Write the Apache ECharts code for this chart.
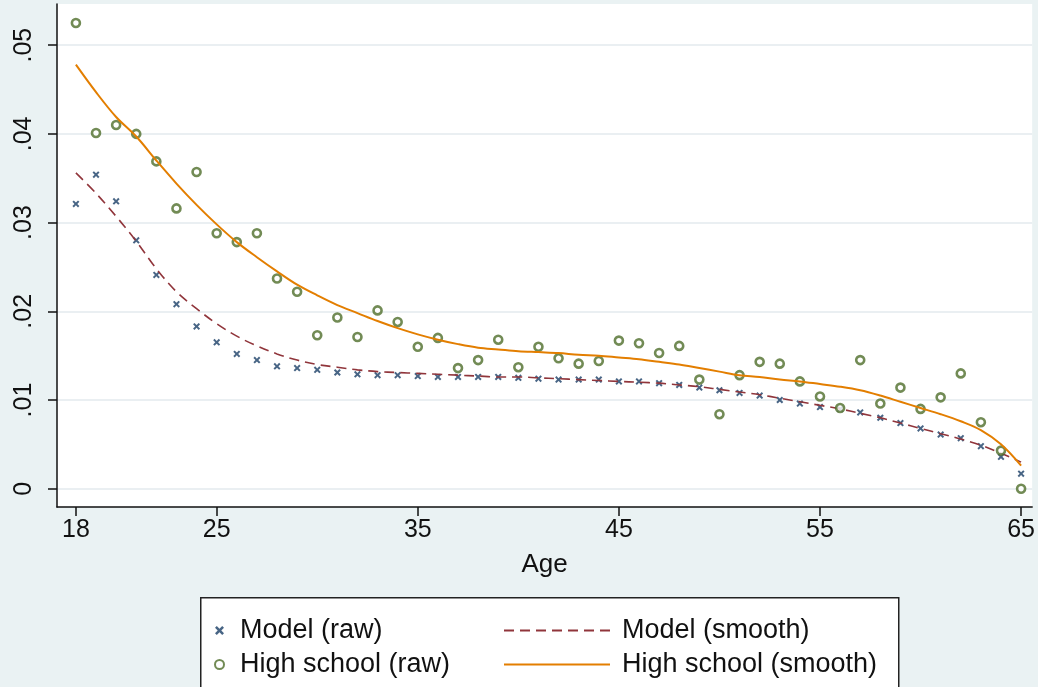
<!DOCTYPE html>
<html lang="en">
<head>
    <meta charset="UTF-8">
    <title>Age profile</title>
    <style>
        html,body{
            margin: 0;
            padding: 0;
            background: #eaf2f3;
        }
        #chartmain{
            width: 1038px;
            height: 687px;
        }
    </style>
</head>
<body>
<div id="chartmain"></div>

<script src="https://cdn.jsdelivr.net/npm/echarts@6/dist/echarts.min.js"></script>
<script type="text/javascript">
    // ages 18..65
    var ages = [18,19,20,21,22,23,24,25,26,27,28,29,30,31,32,33,34,35,36,37,38,39,40,41,
        42,43,44,45,46,47,48,49,50,51,52,53,54,55,56,57,58,59,60,61,62,63,64,65];

    var modelRaw = [0.0321,0.0354,0.0324,0.0280,0.0241,0.0208,0.0183,0.0165,0.0152,0.0145,0.0138,0.0136,
        0.0134,0.0131,0.0129,0.0128,0.0128,0.0127,0.0126,0.0126,0.0126,0.0126,0.0125,0.0124,
        0.0123,0.0123,0.0123,0.0121,0.0121,0.0119,0.0117,0.0114,0.0111,0.0108,0.0105,0.0100,
        0.0096,0.0092,0.0090,0.0086,0.0080,0.0074,0.0068,0.0061,0.0057,0.0048,0.0036,0.0017];

    var modelSmooth = [0.0356,0.0333,0.0307,0.0279,0.0248,0.0222,0.0203,0.0186,0.0172,0.0161,0.0152,0.0145,
        0.0140,0.0137,0.0134,0.0132,0.0131,0.0130,0.0129,0.0128,0.0127,0.0126,0.0126,0.0125,
        0.0124,0.0123,0.0122,0.0121,0.0120,0.0119,0.0117,0.0115,0.0112,0.0109,0.0106,0.0102,
        0.0098,0.0094,0.0090,0.0085,0.0080,0.0074,0.0068,0.0062,0.0056,0.0049,0.0040,0.0030];

    var hsRaw = [0.0525,0.0401,0.0410,0.0400,0.0369,0.0316,0.0357,0.0288,0.0278,0.0288,0.0237,0.0222,
        0.0173,0.0193,0.0171,0.0201,0.0188,0.0160,0.0170,0.0136,0.0145,0.0168,0.0137,0.0160,
        0.0147,0.0141,0.0144,0.0167,0.0164,0.0153,0.0161,0.0123,0.0084,0.0128,0.0143,0.0141,
        0.0121,0.0104,0.0091,0.0145,0.0096,0.0114,0.0090,0.0103,0.0130,0.0075,0.0043,0.0000];

    var hsSmooth = [0.0478,0.0447,0.0419,0.0397,0.0370,0.0344,0.0320,0.0298,0.0278,0.0261,0.0245,0.0230,
        0.0218,0.0207,0.0198,0.0189,0.0181,0.0174,0.0168,0.0163,0.0159,0.0157,0.0155,0.0154,
        0.0153,0.0151,0.0150,0.0148,0.0146,0.0143,0.0140,0.0136,0.0132,0.0128,0.0126,0.0123,
        0.0121,0.0118,0.0115,0.0111,0.0105,0.0098,0.0091,0.0084,0.0076,0.0066,0.0050,0.0026];

    var xTicks = [18,25,35,45,55,65];
    var yTicks = [0,0.01,0.02,0.03,0.04,0.05];

    function pairs(xs, ys){
        var out = [];
        for (var i = 0; i < xs.length; i++) {
            out.push([xs[i], ys[i]]);
        }
        return out;
    }

    // small "x" marker like Stata's
    var xMark = 'path://M0,2L2,0L5,3L8,0L10,2L7,5L10,8L8,10L5,7L2,10L0,8L3,5Z';
    var fontFam = '"Liberation Sans", Arial, sans-serif';

    var option = {
        backgroundColor: '#eaf2f3',
        animation: false,
        grid: {
            left: 57,
            right: 4,
            top: 4,
            bottom: 180,
            show: true,
            backgroundColor: '#ffffff',
            borderWidth: 0
        },
        xAxis: {
            type: 'value',
            min: 17.06,
            max: 65.55,
            name: 'Age',
            nameLocation: 'middle',
            nameGap: 45,
            nameTextStyle: {color: '#111', fontSize: 26, fontFamily: fontFam},
            axisLine: {show: true, onZero: false, lineStyle: {color: '#111', width: 1.5}},
            axisTick: {show: true, length: 9, customValues: xTicks, lineStyle: {color: '#111', width: 1.5}},
            axisLabel: {customValues: xTicks, margin: 11, color: '#111', fontSize: 25, fontFamily: fontFam},
            splitLine: {show: false}
        },
        yAxis: {
            type: 'value',
            min: -0.00206,
            max: 0.05464,
            axisLine: {show: true, onZero: false, lineStyle: {color: '#111', width: 1.5}},
            axisTick: {show: true, length: 9, customValues: yTicks, lineStyle: {color: '#111', width: 1.5}},
            axisLabel: {
                customValues: yTicks,
                rotate: 90,
                margin: 20,
                color: '#111',
                fontSize: 25,
                fontFamily: fontFam,
                formatter: function (v) {
                    return v === 0 ? '0' : String(v).replace(/^0/, '');
                }
            },
            splitLine: {show: true, lineStyle: {color: '#e3eaee', width: 1.5}}
        },
        graphic: [{
            type: 'rect',
            left: 200,
            top: 597,
            z: 0,
            shape: {width: 698, height: 100},
            style: {fill: '#ffffff', stroke: '#222', lineWidth: 1.5}
        }],
        legend: [{
            // left column: raw markers
            orient: 'vertical',
            left: 209,
            top: 612,
            itemWidth: 9,
            itemHeight: 9,
            itemGap: 7,
            data: ['Model (raw)', 'High school (raw)'],
            textStyle: {color: '#111', fontSize: 27, fontFamily: fontFam, padding: [0, 0, 0, 11]}
        }, {
            // right column: smooth lines
            orient: 'vertical',
            left: 498,
            top: 612,
            itemWidth: 106,
            itemHeight: 2,
            itemGap: 7,
            itemStyle: {opacity: 0},
            data: ['Model (smooth)', 'High school (smooth)'],
            textStyle: {color: '#111', fontSize: 27, fontFamily: fontFam, padding: [0, 0, 0, 7]}
        }],
        series: [{
            name: 'Model (raw)',
            type: 'scatter',
            symbol: xMark,
            symbolSize: 7,
            itemStyle: {color: '#1a3f66'},
            data: pairs(ages, modelRaw),
            z: 2
        }, {
            name: 'Model (smooth)',
            type: 'line',
            smooth: 0.35,
            showSymbol: false,
            symbol: 'none',
            lineStyle: {color: '#90353b', width: 1.6, type: [10, 6]},
            itemStyle: {color: '#90353b'},
            data: pairs(ages, modelSmooth),
            z: 3
        }, {
            name: 'High school (raw)',
            type: 'scatter',
            symbol: 'circle',
            symbolSize: 8,
            itemStyle: {color: '#ffffff', borderColor: '#4f6e2a', borderWidth: 2.6},
            data: pairs(ages, hsRaw),
            z: 4
        }, {
            name: 'High school (smooth)',
            type: 'line',
            smooth: 0.35,
            showSymbol: false,
            symbol: 'none',
            lineStyle: {color: '#e37e00', width: 2},
            itemStyle: {color: '#e37e00'},
            data: pairs(ages, hsSmooth),
            z: 5
        }]
    };

    var myChart = echarts.init(document.getElementById('chartmain'));
    myChart.setOption(option);
</script>
</body>
</html>
